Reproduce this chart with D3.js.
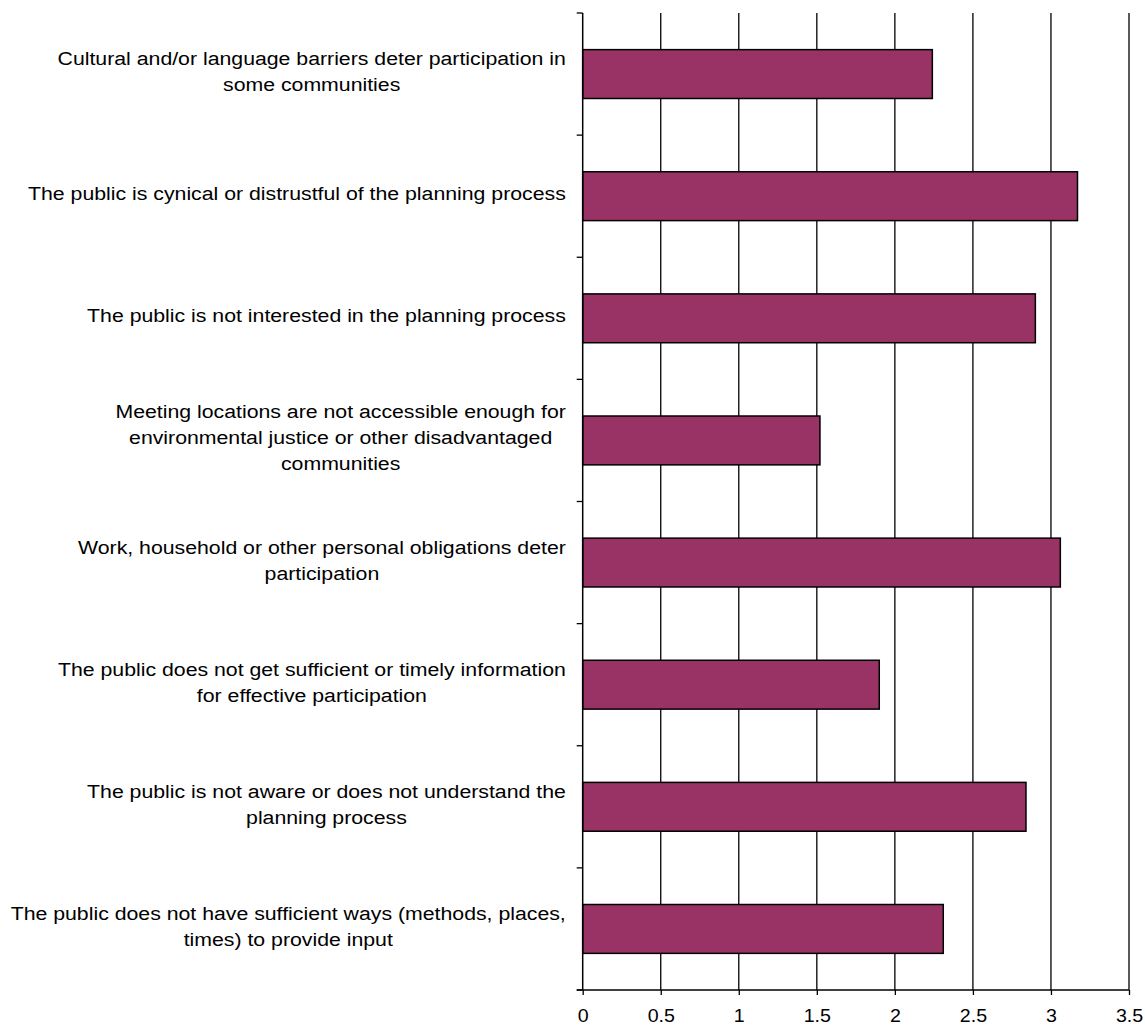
<!DOCTYPE html>
<html>
<head>
<meta charset="utf-8">
<script src="https://cdn.jsdelivr.net/npm/d3@7"></script>
<style>
  html, body { margin: 0; padding: 0; background: #fff; }
  svg { display: block; font-family: "Liberation Sans", Arial, sans-serif; }
</style>
</head>
<body>
<svg id="chart" width="1145" height="1025"></svg>
<script>
// Barriers to public participation, mean rating per item
const categories = [
  ["Cultural and/or language barriers deter participation in", "some communities"],
  ["The public is cynical or distrustful of the planning process"],
  ["The public is not interested in the planning process"],
  ["Meeting locations are not accessible enough for", "environmental justice or other disadvantaged", "communities"],
  ["Work, household or other personal obligations deter", "participation"],
  ["The public does not get sufficient or timely information", "for effective participation"],
  ["The public is not aware or does not understand the", "planning process"],
  ["The public does not have sufficient ways (methods, places,", "times) to provide input"]
];
const values = [2.24, 3.17, 2.90, 1.52, 3.06, 1.90, 2.84, 2.31];
const xTicks = [0, 0.5, 1, 1.5, 2, 2.5, 3, 3.5];

const svg = d3.select("#chart");
const plotLeft = 582.7, plotRight = 1129, plotTop = 13, plotBottom = 990;
const labelRight = 566;

const keys = categories.map((c, i) => i);
const x = d3.scaleLinear().domain([0, 3.5]).range([plotLeft, plotRight]);
const y = d3.scaleBand().domain(keys).range([plotTop, plotBottom]).paddingInner(0.6).paddingOuter(0.3);
const step = y.step();

// vertical gridlines at every x tick
svg.append("g")
  .selectAll("line")
  .data(xTicks.slice(1))
  .join("line")
  .attr("x1", d => x(d)).attr("x2", d => x(d))
  .attr("y1", plotTop).attr("y2", plotBottom)
  .attr("stroke", "#000").attr("stroke-width", 1.3);

// bars
svg.append("g")
  .selectAll("rect")
  .data(values)
  .join("rect")
  .attr("x", x(0))
  .attr("y", (d, i) => y(i))
  .attr("width", d => x(d) - x(0))
  .attr("height", y.bandwidth())
  .attr("fill", "#993366")
  .attr("stroke", "#000")
  .attr("stroke-width", 1.5);

// category axis line and tick marks at band boundaries
const bounds = d3.range(categories.length + 1).map(i => plotTop + i * step);
svg.append("line")
  .attr("x1", x(0)).attr("x2", x(0)).attr("y1", plotTop).attr("y2", plotBottom)
  .attr("stroke", "#000").attr("stroke-width", 1.5);
svg.append("g")
  .selectAll("line")
  .data(bounds)
  .join("line")
  .attr("x1", x(0) - 6).attr("x2", x(0))
  .attr("y1", d => d).attr("y2", d => d)
  .attr("stroke", "#000").attr("stroke-width", 1.3);

// value axis along the bottom
const xAxis = d3.axisBottom(x)
  .tickValues(xTicks)
  .tickFormat(d3.format("~g"))
  .tickSize(5)
  .tickSizeOuter(0);
const gx = svg.append("g").attr("transform", `translate(0,${plotBottom})`).call(xAxis);
gx.select(".domain").remove();
gx.selectAll(".tick line").attr("stroke", "#000").attr("stroke-width", 1.3);
gx.selectAll(".tick text")
  .attr("y", 0).attr("dy", null)
  .attr("transform", "translate(0,31.5) scale(1.06,1)")
  .attr("font-size", 18.5)
  .attr("font-family", "Liberation Sans, Arial, sans-serif")
  .attr("fill", "#000");
svg.append("line")
  .attr("x1", x(0) - 6).attr("x2", plotRight)
  .attr("y1", plotBottom).attr("y2", plotBottom)
  .attr("stroke", "#000").attr("stroke-width", 1.5);

// category labels: lines centred on each other, block right-aligned,
// set in a slightly widened face
const fontSize = 19, lineH = 26, stretch = 1.12;
const lg = svg.append("g").attr("font-size", fontSize).attr("fill", "#000");
categories.forEach((lines, i) => {
  const cy = y(i) + y.bandwidth() / 2;
  const t = lg.append("text").attr("text-anchor", "middle");
  const spans = t.selectAll("tspan").data(lines).join("tspan").text(d => d);
  const widths = [];
  spans.each(function () { widths.push(this.getComputedTextLength()); });
  const cx = labelRight - d3.max(widths) * stretch / 2;
  const y0 = cy - (lines.length - 1) * lineH / 2 + 4;
  spans.attr("x", 0).attr("y", (d, j) => y0 + j * lineH);
  t.attr("transform", `translate(${cx},0) scale(${stretch},1)`);
});
</script>
</body>
</html>
